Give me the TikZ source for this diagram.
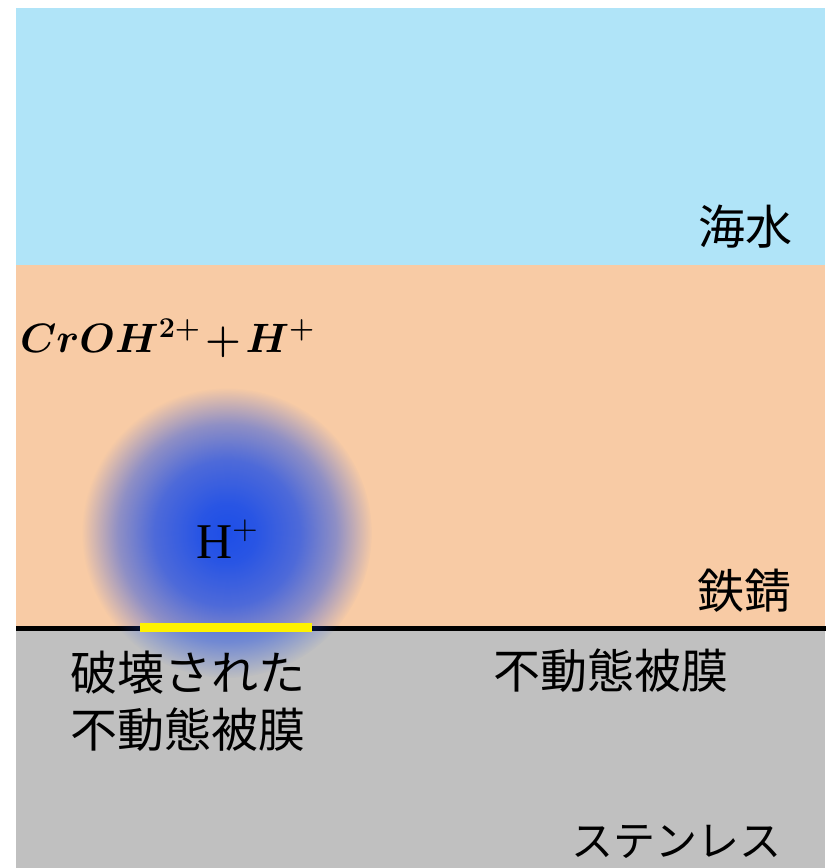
\RequirePackage{fix-cm}
\documentclass[tikz,border=0pt]{standalone}
\usepackage{fontspec}
\usepackage{amsmath}
\usepackage{bm}
\usetikzlibrary{fadings}
\newfontfamily\jpfont{Noto Sans CJK JP}
\newfontfamily\serifh{Liberation Serif}

\definecolor{seablue}{HTML}{B0E4F8}
\definecolor{rustorange}{HTML}{F8CBA5}
\definecolor{steelgray}{HTML}{C0C0C0}
\definecolor{ionblue}{HTML}{1E4FE8}

% soft radial spot for the H+ cloud (white = opaque, black = clear)
\pgfdeclareradialshading{ionshade}{\pgfpointorigin}{%
  color(0bp)=(white); color(5bp)=(white!95!black);
  color(12.5bp)=(white!78!black); color(18.75bp)=(white!48!black);
  color(25bp)=(black); color(50bp)=(black)}
\pgfdeclarefading{ionfade}{\pgfuseshading{ionshade}}

\newcommand{\crohreaction}{\medmuskip=2mu $\bm{\rightarrow\,CrOH^{2+}+H^{+}}$}

\tikzset{
  jplabel/.style={font=\jpfont\fontsize{47}{57}\selectfont, inner sep=0pt},
  formula/.style={font=\fontsize{41}{50}\selectfont, inner sep=0pt},
}

\begin{document}
\begin{tikzpicture}[x=1pt,y=-1pt]
            \useasboundingbox (0,0) rectangle (828,868);
            % layers
            \fill[seablue] (16,8) rectangle (825,265);
            \fill[rustorange] (16,265) rectangle (825,627);
            \fill[steelgray] (16,627) rectangle (825,868);
            \draw[black, line width=5pt] (16,628.5) -- (826,628.5);
            % H+ cloud over the broken film
            \fill[ionblue, path fading=ionfade] (227,533) circle (145);
            \draw[yellow, line width=9pt] (140,627.5) -- (312,627.5);
            % labels
            \node[jplabel, anchor=base east] (sea) at (793,244) {海水};
            \node[jplabel, anchor=base east] (rust) at (792,608) {鉄錆};
            \node[jplabel, anchor=base west] (film) at (493,688) {不動態被膜};
            \node[jplabel, anchor=base west, align=left] (broken) at (70,747) {破壊された\\不動態被膜};
            \node[jplabel, anchor=base west, font=\jpfont\fontsize{42}{50}\selectfont] (steel) at (571,856) {ステンレス};
            \node[formula, anchor=base west, font=\serifh\fontsize{50}{60}\selectfont] (ion) at (196,558) {H$^{+}$};
            \node[formula, anchor=base east] (reaction) at (315,352) {\crohreaction};
\end{tikzpicture}
\end{document}
